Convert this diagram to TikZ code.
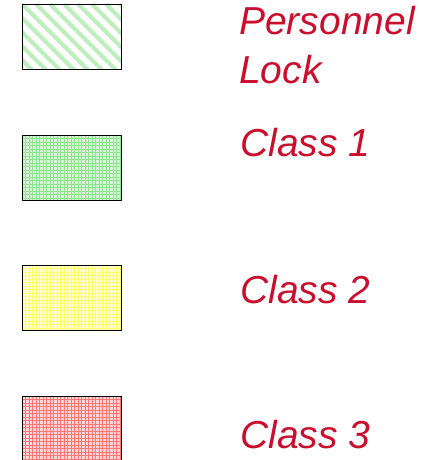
\documentclass[tikz,border=0pt]{standalone}
\usepackage{fontspec}
\setmainfont{Liberation Sans}
\definecolor{lbl}{RGB}{200,16,46}
\definecolor{gbase}{RGB}{212,245,212}
\definecolor{gline}{RGB}{145,226,145}
\definecolor{ybase}{RGB}{255,255,205}
\definecolor{yline}{RGB}{255,255,110}
\definecolor{rbase}{RGB}{255,214,214}
\definecolor{rline}{RGB}{255,120,120}
\definecolor{hatch}{RGB}{190,238,190}
\tikzset{
  swatch/.style={draw=black, line width=0.9pt, minimum width=99pt, minimum height=65pt,
    inner sep=0pt, outer sep=0pt, anchor=north west},
  lbltext/.style={font=\fontsize{39}{46}\selectfont\itshape, text=lbl, anchor=base west, inner sep=0pt},
  plaid/.style 2 args={fill=#1, path picture={
      \foreach \i in {0,3.5,...,100} {
        \draw[#2, line width=1pt] ([xshift=\i pt]path picture bounding box.north west) -- ([xshift=\i pt]path picture bounding box.south west);
      }
      \foreach \j in {0,3.5,...,70} {
        \draw[#2, line width=1pt] ([yshift=-\j pt]path picture bounding box.north west) -- ([yshift=-\j pt]path picture bounding box.north east);
      }
    }},
  diaghatch/.style={fill=white, path picture={
      \foreach \i in {-84,-70,...,100} {
        \draw[hatch, line width=4pt] ([xshift=\i pt]path picture bounding box.north west) -- ++(70pt,-70pt);
      }
    }}
}
\begin{document}
\begin{tikzpicture}[x=1pt,y=-1pt]
  \clip (0,0) rectangle (439,460);
  \fill[white] (0,0) rectangle (439,460);
  \node[swatch, diaghatch] (s0) at (22,4) {};
  \node[swatch, plaid={gbase}{gline}] (s1) at (22,135) {};
  \node[swatch, plaid={ybase}{yline}] (s2) at (22,265) {};
  \node[swatch, plaid={rbase}{rline}] (s3) at (22,396) {};
  \node[lbltext] (t0a) at (239,35) {Personnel};
  \node[lbltext] (t0b) at (239,83) {Lock};
  \node[lbltext] (t1) at (240,156) {Class 1};
  \node[lbltext] (t2) at (240,303) {Class 2};
  \node[lbltext] (t3) at (240,448) {Class 3};
\end{tikzpicture}
\end{document}
